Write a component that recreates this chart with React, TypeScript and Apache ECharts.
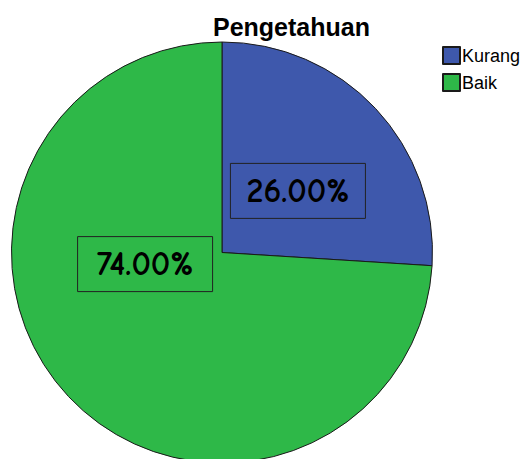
import React, { useEffect, useRef } from "react";
import * as echarts from "echarts";

const categories = ["Kurang", "Baik"];
const values = [26.0, 74.0];
const colors = ["#3E58AC", "#2EB848"];
const titleText = "Pengetahuan";

export default function App() {
  const ref = useRef<HTMLDivElement>(null);
  useEffect(() => {
    if (!ref.current) return;
    const chart = echarts.init(ref.current, undefined, { renderer: "svg" });
    chart.setOption({
      animation: false,
      title: {
        text: titleText,
        left: 213,
        top: 14,
        padding: 0,
        textStyle: {
          fontFamily: "Liberation Sans, Arial, sans-serif",
          fontSize: 25,
          fontWeight: "bold",
          color: "#000",
        },
      },
      legend: {
        orient: "vertical",
        left: 442,
        top: 46,
        padding: 0,
        itemWidth: 17,
        itemHeight: 17,
        itemGap: 8,
        icon: "rect",
        data: categories,
        textStyle: {
          fontFamily: "Liberation Sans, Arial, sans-serif",
          fontSize: 18,
          color: "#000",
          padding: [0, 0, 0, -3],
        },
      },
      series: [
        {
          type: "pie",
          center: [222, 252.5],
          radius: 210.5,
          startAngle: 90,
          clockwise: true,
          silent: true,
          itemStyle: { borderColor: "#1a1a1a", borderWidth: 1 },
          label: {
            show: true,
            position: "inside",
            formatter: (p: any) => p.value.toFixed(2) + "%",
            fontFamily: "'Comic Sans MS', 'Comic Neue', cursive, 'DejaVu Sans', sans-serif",
            fontSize: 34,
            fontWeight: "bold",
            color: "#000",
            borderColor: "#222",
            borderWidth: 1,
            width: 121,
            height: 31,
            align: "center",
            verticalAlign: "middle",
            padding: [12, 7],
            lineHeight: 31,
          },
          labelLayout: (params: any) =>
            params.dataIndex === 1 ? { dx: 2, dy: -62.5 } : { dx: -3, dy: 12.5 },
          labelLine: { show: false },
          data: categories.map((name, i) => ({
            name,
            value: values[i],
            itemStyle: { color: colors[i] },
          })),
        },
      ],
    });
    return () => chart.dispose();
  }, []);
  return (
    <div
      ref={ref}
      style={{ position: "absolute", left: 0, top: 0, width: 527, height: 459 }}
    />
  );
}
